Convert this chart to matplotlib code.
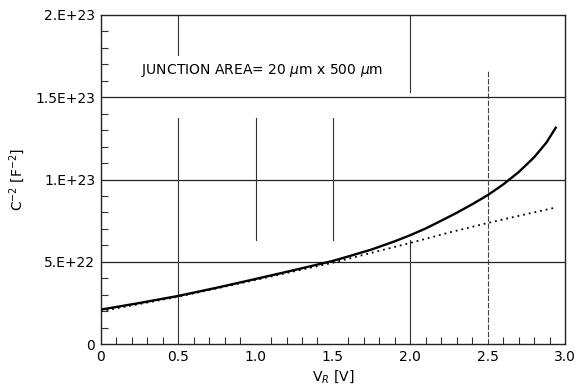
import matplotlib.pyplot as plt
import numpy as np

# measured C^-2 vs reverse bias
v_solid = [0, 0.25, 0.5, 0.75, 1.0, 1.25, 1.5, 1.6, 1.75, 1.9, 2.0, 2.1, 2.2, 2.3,
           2.4, 2.5, 2.6, 2.7, 2.8, 2.88, 2.94]
c2_solid = [2.1e22, 2.5e22, 2.93e22, 3.43e22, 3.96e22, 4.5e22, 5.06e22, 5.33e22, 5.75e22,
            6.25e22, 6.62e22, 7.03e22, 7.5e22, 7.98e22, 8.5e22, 9.05e22, 9.7e22,
            10.45e22, 11.35e22, 12.25e22, 13.15e22]
# dotted reference curve
v_dot = [0, 0.5, 1.0, 1.5, 1.75, 2.0, 2.25, 2.5, 2.75, 2.94]
c2_dot = [2.0e22, 2.88e22, 3.9e22, 4.95e22, 5.55e22, 6.15e22, 6.78e22, 7.36e22, 7.9e22, 8.3e22]

yticks = [0, 5e22, 1e23, 1.5e23, 2e23]
ytick_labels = ["0", "5.E+22", "1.E+23", "1.5E+23", "2.E+23"]
xticks = [0, 0.5, 1.0, 1.5, 2.0, 2.5, 3.0]
xtick_labels = ["0", "0.5", "1.0", "1.5", "2.0", "2.5", "3.0"]

plt.rcParams['font.family'] = 'DejaVu Sans'
fig = plt.figure(figsize=(5.76, 3.92), dpi=100)
ax = fig.add_axes([0.175, 0.122, 0.806, 0.840])

ax.set_xlim(0, 3.0)
ax.set_ylim(0, 2e23)

# horizontal grid
for y in yticks[1:-1]:
    ax.axhline(y, color='#222222', lw=0.9, zorder=1)
# broken vertical grid lines as in the original drawing
vsegs = [(0.5, 0.878, 1.0), (0.5, 0.0, 0.687), (1.0, 0.316, 0.687), (1.5, 0.316, 0.687),
         (2.0, 0.766, 1.0), (2.0, 0.0, 0.316)]
for x, a, b in vsegs:
    ax.axvline(x, ymin=a, ymax=b, color='#333333', lw=0.8, zorder=1)
ax.axvline(2.5, ymin=0.0, ymax=0.833, color='#444444', lw=0.8, ls=(0, (5, 1.5)), zorder=1)

ax.plot(v_dot, c2_dot, color='black', lw=1.3, ls=(0, (1, 2.2)), zorder=2)
ax.plot(v_solid, c2_solid, color='black', lw=1.7, zorder=3)

ax.set_xticks(xticks)
ax.set_xticklabels(xtick_labels)
ax.set_yticks(yticks)
ax.set_yticklabels(ytick_labels)
ax.set_xticks(np.arange(0, 3.01, 0.1), minor=True)
ax.set_yticks(np.arange(0, 2.01e23, 1e22), minor=True)
ax.tick_params(which='both', direction='in', top=False, right=False, labelsize=10, color='#333333')
ax.tick_params(which='major', length=0, pad=4)
ax.tick_params(which='minor', length=5, width=0.8)

for s in ax.spines.values():
    s.set_linewidth(1.0)
    s.set_color('#222222')

ax.text(0.26, 1.66e23, "JUNCTION AREA= 20 $\\mu$m x 500 $\\mu$m", fontsize=10, va='center')

ax.set_xlabel("V$_R$ [V]", fontsize=10, labelpad=3)
ax.set_ylabel("C$^{-2}$ [F$^{-2}$]", fontsize=10, labelpad=6)

fig.savefig("out.png", dpi=100)
